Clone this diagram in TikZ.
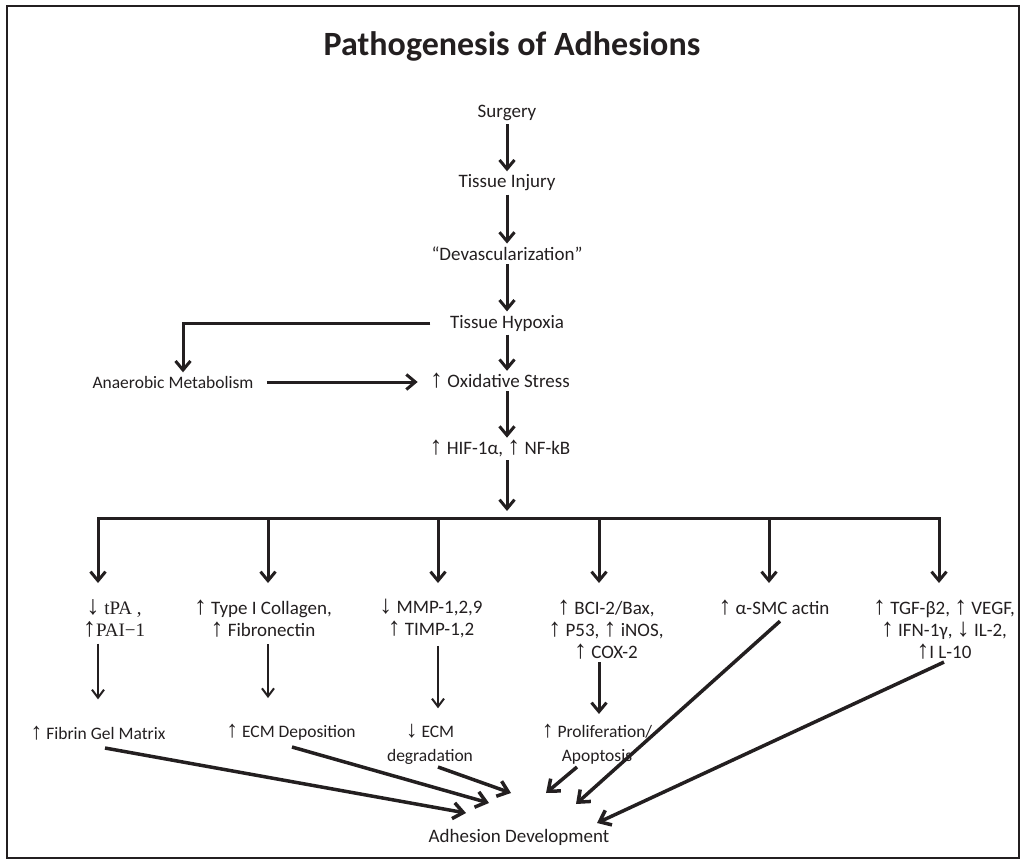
\documentclass[tikz,border=0pt]{standalone}
\usepackage{fontspec}
\setmainfont{Carlito}
\newfontfamily\timesft{Liberation Serif}
\newfontfamily\arrft{Liberation Sans}
\usetikzlibrary{arrows.meta}
\definecolor{ink}{RGB}{35,31,32}
\newcommand{\uarr}{\smash{\scalebox{1.35}{\arrft ↑}}}
\newcommand{\darr}{\smash{\scalebox{1.35}{\arrft ↓}}}
\newcommand{\tuarr}{\smash{\scalebox{1.4}{↑}}}
\newcommand{\tdarr}{\smash{\scalebox{1.4}{↓}}}

\begin{document}
\begin{tikzpicture}[x=1pt, y=-1pt, color=ink,
    every node/.style={font=\fontsize{19}{22}\selectfont, align=center},
    small/.style={font=\fontsize{17.5}{24}\selectfont},
    arr/.style={-{Straight Barb[length=9pt,width=15pt]}, line width=3pt},
    thinarr/.style={-{Straight Barb[length=8pt,width=12pt]}, line width=2pt},
    bigarr/.style={-{Straight Barb[length=10pt,width=16pt]}, line width=3.5pt}]
    \useasboundingbox (0,0) rectangle (1028,862);
    \draw[line width=2pt] (7,6) rectangle (1019,858); % frame

    \node[font=\fontsize{34}{40}\selectfont\bfseries] (title) at (512,46) {Pathogenesis of Adhesions};

    % main chain
    \node (surg) at (507,113) {Surgery};
    \node (inj) at (507,183) {Tissue Injury};
    \node (dev) at (507,254) {“Devascularization”};
    \node (hyp) at (507,323) {Tissue Hypoxia};
    \node[small] (anae) at (173,382) {Anaerobic Metabolism};
    \node (oxs) at (500,381) {\uarr\ Oxidative Stress};
    \node (hif) at (500,449) {\uarr\ HIF-1α, \uarr\ NF-kB};

    \draw[arr] (surg) -- (inj);
    \draw[arr] (inj) -- (dev);
    \draw[arr] (dev) -- (hyp);
    \draw[arr] (hyp.south) -- (hyp.south |- oxs.north);
    \draw[arr] ([xshift=-16pt]hyp.west) -| ([xshift=10pt]anae.north);
    \draw[arr, shorten <=10pt, shorten >=9pt] (anae.east) -- (anae.east -| oxs.west);
    \draw[arr] (hyp.south |- oxs.south) -- (hyp.south |- hif.north);

    % branching bar
    \coordinate (b1) at (98,518);
    \coordinate (b2) at (268,518);
    \coordinate (b3) at (438,518);
    \coordinate (b4) at (599,518);
    \coordinate (b5) at (769,518);
    \coordinate (b6) at (939,518);
    \draw[arr, shorten >=7pt] (hyp.south |- hif.south) -- (hyp.south |- b1);
    \draw[line width=3pt, line cap=rect] (b1) -- (b6);

    % first row
    \node[anchor=north, font=\timesft\fontsize{19}{22}\selectfont] (tpa) at (114,598) {\tdarr\ tPA ,\\\tuarr PAI−1};
    \node[anchor=north] (col) at (263,598) {\uarr\ Type I Collagen,\\\uarr\ Fibronectin};
    \node[anchor=north] (mmp) at (431,598) {\darr\ MMP-1,2,9\\\uarr\ TIMP-1,2};
    \node[anchor=north] (bci) at (606,598) {\uarr\ BCI-2/Bax,\\\uarr\ P53, \uarr\ iNOS,\\\uarr\ COX-2};
    \node[anchor=north] (sma) at (774,598) {\uarr\ α-SMC actin};
    \node[anchor=north] (tgf) at (944,598) {\uarr\ TGF-β2, \uarr\ VEGF,\\\uarr\ IFN-1γ, \darr\ IL-2,\\\uarr I L-10};

    \draw[arr, shorten >=15pt] (b1) -- (b1 |- tpa.north);
    \draw[arr, shorten >=15pt] (b2) -- (b2 |- col.north);
    \draw[arr, shorten >=15pt] (b3) -- (b3 |- mmp.north);
    \draw[arr, shorten >=15pt] (b4) -- (b4 |- bci.north);
    \draw[arr, shorten >=15pt] (b5) -- (b5 |- sma.north);
    \draw[arr, shorten >=15pt] (b6) -- (b6 |- tgf.north);

    % second row
    \node[small] (fib) at (98,733) {\uarr\ Fibrin Gel Matrix};
    \node[small] (ecm) at (291,733) {\uarr\ ECM Deposition};
    \node[small] (deg) at (430,745) {\darr\ ECM\\degradation};
    \node[small] (pro) at (597,745) {\uarr\ Proliferation/\\Apoptosis};

    \draw[thinarr, shorten <=4pt, shorten >=24pt] (b1 |- tpa.south) -- (b1 |- fib.north);
    \draw[thinarr, shorten <=4pt, shorten >=24pt] (b2 |- col.south) -- (b2 |- ecm.north);
    \draw[thinarr, shorten <=4pt, shorten >=14pt] (b3 |- mmp.south) -- (b3 |- deg.north);
    \draw[arr, shorten >=8pt] (b4 |- bci.south) -- (b4 |- pro.north);

    % outcome
    \node (adh) at (519,837) {Adhesion Development};

    \draw[bigarr] ([shift={(7,15)}]fib.center) -- ([shift={(-53,-24)}]adh.center);
    \draw[bigarr] ([shift={(1,14)}]ecm.center) -- ([shift={(-30,-34)}]adh.center);
    \draw[bigarr] ([shift={(8,22)}]deg.center) -- ([shift={(-8,-44)}]adh.center);
    \draw[bigarr] ([shift={(-20,22)}]pro.center) -- ([shift={(27,-44)}]adh.center);
    \draw[bigarr] ([shift={(6,13)}]sma.center) -- ([shift={(57,-33)}]adh.center);
    \draw[bigarr] ([shift={(0,32)}]tgf.center) -- ([shift={(78,-14)}]adh.center);
\end{tikzpicture}
\end{document}
